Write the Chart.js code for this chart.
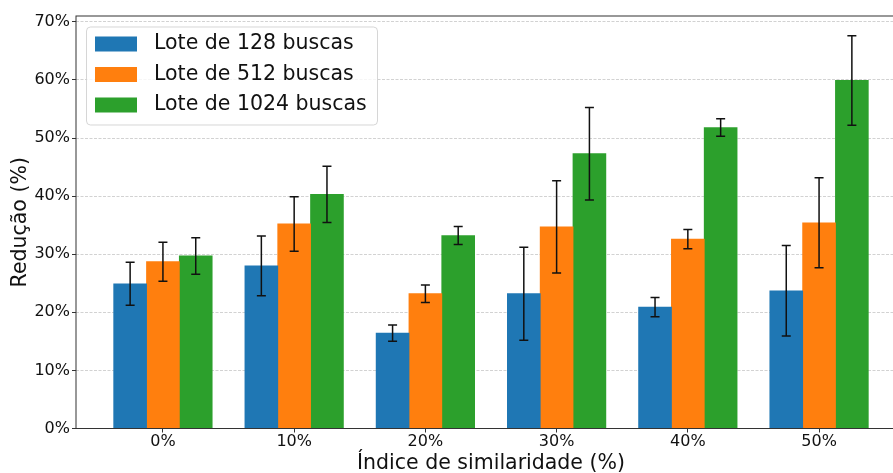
<!DOCTYPE html>
<html>
<head>
<meta charset="utf-8">
<script src="https://cdn.jsdelivr.net/npm/chart.js@4/dist/chart.umd.min.js"></script>
<style>
  html, body { margin: 0; padding: 0; background: #fff; overflow: hidden; }
  #wrap { width: 912px; height: 473px; }
</style>
</head>
<body>
<div id="wrap"><canvas id="chart" width="912" height="473"></canvas></div>
<script>
// Similarity index groups
const categories = ['0%', '10%', '20%', '30%', '40%', '50%'];

// Mean reduction (%) per batch size
const lote128 = [24.9, 28.0, 16.4, 23.2, 20.9, 23.7];
const lote512 = [28.7, 35.2, 23.2, 34.7, 32.6, 35.4];
const lote1024 = [29.7, 40.3, 33.2, 47.3, 51.8, 59.9];

// Standard deviation (%) per batch size
const lote128Err = [3.7, 5.15, 1.4, 8.0, 1.65, 7.8];
const lote512Err = [3.35, 4.7, 1.5, 7.95, 1.65, 7.75];
const lote1024Err = [3.15, 4.85, 1.55, 7.95, 1.5, 7.7];

const seriesLabels = ['Lote de 128 buscas', 'Lote de 512 buscas', 'Lote de 1024 buscas'];
const yTicks = [0, 10, 20, 30, 40, 50, 60, 70];

const FONT = "'DejaVu Sans', sans-serif";
const toPoints = vals => vals.map((v, i) => ({ x: i, y: v }));

// Error bars with caps, drawn through the chart's own scales
const errorBars = {
  id: 'errorBars',
  afterDatasetsDraw(chart) {
    const { ctx, scales: { y } } = chart;
    ctx.save();
    ctx.strokeStyle = '#111';
    ctx.lineWidth = 1.5;
    chart.data.datasets.forEach((ds, di) => {
      const meta = chart.getDatasetMeta(di);
      meta.data.forEach((bar, j) => {
        const v = ds.data[j].y, e = ds.errors[j];
        const top = y.getPixelForValue(v + e);
        const bot = y.getPixelForValue(v - e);
        const cap = 4.5;
        ctx.beginPath();
        ctx.moveTo(bar.x, top); ctx.lineTo(bar.x, bot);
        ctx.moveTo(bar.x - cap, top); ctx.lineTo(bar.x + cap, top);
        ctx.moveTo(bar.x - cap, bot); ctx.lineTo(bar.x + cap, bot);
        ctx.stroke();
      });
    });
    ctx.restore();
  }
};

// Axes frame around the plotting area
const frame = {
  id: 'frame',
  afterDatasetsDraw(chart) {
    const { ctx, chartArea: a } = chart;
    ctx.save();
    ctx.strokeStyle = '#333';
    ctx.lineWidth = 1;
    ctx.strokeRect(a.left, a.top, a.right - a.left, a.bottom - a.top);
    ctx.restore();
  }
};

// Boxed legend in the upper-left corner of the plot
const boxLegend = {
  id: 'boxLegend',
  afterDraw(chart) {
    const { ctx, chartArea: a } = chart;
    const x0 = a.left + 10.5, y0 = a.top + 11, w = 291, h = 98, r = 4;
    ctx.save();
    ctx.beginPath();
    ctx.roundRect(x0, y0, w, h, r);
    ctx.fillStyle = 'rgba(255,255,255,0.8)';
    ctx.fill();
    ctx.strokeStyle = 'rgba(204,204,204,0.8)';
    ctx.lineWidth = 1;
    ctx.stroke();
    ctx.font = `20.5px ${FONT}`;
    ctx.textBaseline = 'middle';
    ctx.textAlign = 'left';
    chart.data.datasets.forEach((ds, i) => {
      const cy = y0 + 17 + i * 30.5;
      ctx.fillStyle = ds.backgroundColor;
      ctx.fillRect(x0 + 8.5, cy - 7.5, 42, 15);
      ctx.fillStyle = '#111';
      ctx.fillText(ds.label, x0 + 67.5, cy);
    });
    ctx.restore();
  }
};

new Chart(document.getElementById('chart'), {
  type: 'bar',
  data: {
    datasets: [
      { label: seriesLabels[0], data: toPoints(lote128), errors: lote128Err, backgroundColor: '#1f77b4' },
      { label: seriesLabels[1], data: toPoints(lote512), errors: lote512Err, backgroundColor: '#ff7f0e' },
      { label: seriesLabels[2], data: toPoints(lote1024), errors: lote1024Err, backgroundColor: '#2ca02c' }
    ]
  },
  options: {
    responsive: false,
    animation: false,
    events: [],
    layout: { padding: { top: 16, right: 6, bottom: 0, left: 0 } },
    datasets: { bar: { categoryPercentage: 0.75, barPercentage: 1.0, borderWidth: 0, inflateAmount: 0.4 } },
    plugins: { legend: { display: false }, tooltip: { enabled: false } },
    scales: {
      x: {
        type: 'linear',
        offset: false,
        min: -0.6625,
        max: 5.6625,
        afterBuildTicks: s => { s.ticks = categories.map((_, i) => ({ value: i })); },
        afterFit: s => { s.height = 44.5; },
        ticks: {
          callback: v => categories[v],
          font: { family: FONT, size: 16 },
          color: '#111',
          padding: 0,
          maxRotation: 0,
          autoSkip: false
        },
        grid: { offset: false, drawOnChartArea: false, drawTicks: true, tickLength: 4, tickColor: '#333', tickWidth: 1 },
        border: { display: false },
        title: {
          display: true,
          text: 'Índice de similaridade (%)',
          font: { family: FONT, size: 20.5 },
          color: '#111',
          padding: { top: 0, bottom: -3 }
        }
      },
      y: {
        min: 0,
        max: 71,
        afterBuildTicks: s => { s.ticks = yTicks.map(v => ({ value: v })); },
        afterFit: s => { s.width = 76; },
        ticks: {
          callback: v => v + '%',
          font: { family: FONT, size: 16 },
          color: '#111',
          padding: 2
        },
        grid: {
          color: 'rgba(180,180,180,0.75)',
          lineWidth: 0.8,
          tickLength: 4,
          tickColor: '#333',
          tickWidth: 1,
          tickBorderDash: [10, 0]
        },
        border: { display: false, dash: [3, 1.5] },
        title: {
          display: true,
          text: 'Redução (%)',
          font: { family: FONT, size: 20.5 },
          color: '#111',
          padding: { top: 8, bottom: 0 }
        }
      }
    }
  },
  plugins: [errorBars, frame, boxLegend]
});
</script>
</body>
</html>
